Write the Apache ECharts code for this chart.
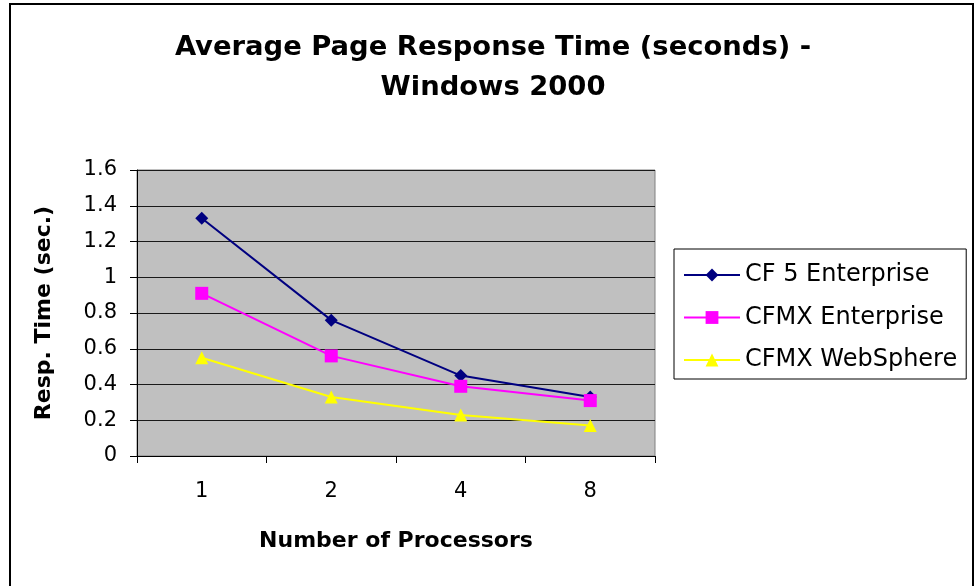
<!DOCTYPE html>
<html>
<head>
<meta charset="utf-8">
<script src="https://cdn.jsdelivr.net/npm/echarts@6/dist/echarts.min.js"></script>
<style>
html,body{margin:0;padding:0;background:#fff;}
#chart{width:975px;height:586px;}
</style>
</head>
<body>
<div id="chart"></div>
<script>
const categories = ['1', '2', '4', '8'];
const seriesNames = ['CF 5 Enterprise', 'CFMX Enterprise', 'CFMX WebSphere'];
const cf5Enterprise = [1.33, 0.76, 0.45, 0.33];
const cfmxEnterprise = [0.91, 0.56, 0.39, 0.31];
const cfmxWebSphere = [0.55, 0.33, 0.23, 0.17];
const yTicks = [0, 0.2, 0.4, 0.6, 0.8, 1, 1.2, 1.4, 1.6];

const FONT = "'DejaVu Sans', 'Liberation Sans', Arial, sans-serif";
const chart = echarts.init(document.getElementById('chart'), null, {renderer: 'canvas'});

const option = {
  animation: false,
  backgroundColor: '#ffffff',
  title: {
    text: 'Average Page Response Time (seconds) -\nWindows 2000',
    left: 488,
    textAlign: 'center',
    top: 23,
    textStyle: {fontFamily: FONT, fontSize: 27.4, fontWeight: 'bold', color: '#000', lineHeight: 40}
  },
  graphic: [{
    type: 'rect',
    shape: {x: 10, y: 4, width: 963, height: 620},
    style: {fill: 'none', stroke: '#000', lineWidth: 2},
    silent: true, z: 100
  }],
  legend: {
    orient: 'vertical',
    left: 674,
    top: 249,
    padding: [14, 9, 7, 9],
    itemGap: 18.5,
    itemWidth: 56,
    itemHeight: 16,
    borderColor: '#000',
    borderWidth: 1,
    backgroundColor: '#fff',
    data: seriesNames,
    textStyle: {fontFamily: FONT, fontSize: 24, color: '#000', lineHeight: 22, padding: [0,0,0,0]}
  },
  grid: {
    left: 137, right: 320, top: 170, bottom: 130,
    show: true, backgroundColor: '#c0c0c0', borderColor: '#808080', borderWidth: 1,
    containLabel: false
  },
  xAxis: {
    type: 'category',
    data: categories,
    boundaryGap: true,
    axisLine: {lineStyle: {color: '#000', width: 1}},
    axisTick: {show: true, length: 7, lineStyle: {color: '#000'}},
    axisLabel: {fontFamily: FONT, fontSize: 21, color: '#000', margin: 25},
    name: 'Number of Processors',
    nameLocation: 'middle',
    nameGap: 74,
    nameTextStyle: {fontFamily: FONT, fontSize: 22, fontWeight: 'bold', color: '#000'}
  },
  yAxis: {
    type: 'value',
    min: 0, max: 1.6, interval: 0.2,
    axisLine: {show: true, lineStyle: {color: '#000', width: 1}},
    axisTick: {show: true, length: 7, lineStyle: {color: '#000'}},
    axisLabel: {fontFamily: FONT, fontSize: 21, color: '#000', margin: 20,
      formatter: function (v) { return String(Math.round(v * 10) / 10); }},
    splitLine: {show: true, lineStyle: {color: '#1a1a1a', width: 1}},
    name: 'Resp. Time (sec.)',
    nameLocation: 'middle',
    nameGap: 82,
    nameRotate: 90,
    nameTextStyle: {fontFamily: FONT, fontSize: 22, fontWeight: 'bold', color: '#000'}
  },
  series: [
    {
      name: seriesNames[0], type: 'line', data: cf5Enterprise,
      symbol: 'diamond', symbolSize: 13,
      lineStyle: {color: '#000080', width: 2},
      itemStyle: {color: '#000080'}, z: 3
    },
    {
      name: seriesNames[1], type: 'line', data: cfmxEnterprise,
      symbol: 'rect', symbolSize: 13,
      lineStyle: {color: '#ff00ff', width: 2},
      itemStyle: {color: '#ff00ff'}, z: 4
    },
    {
      name: seriesNames[2], type: 'line', data: cfmxWebSphere,
      symbol: 'triangle', symbolSize: 13,
      lineStyle: {color: '#ffff00', width: 2},
      itemStyle: {color: '#ffff00'}, z: 2
    }
  ]
};
chart.setOption(option);
</script>
</body>
</html>
